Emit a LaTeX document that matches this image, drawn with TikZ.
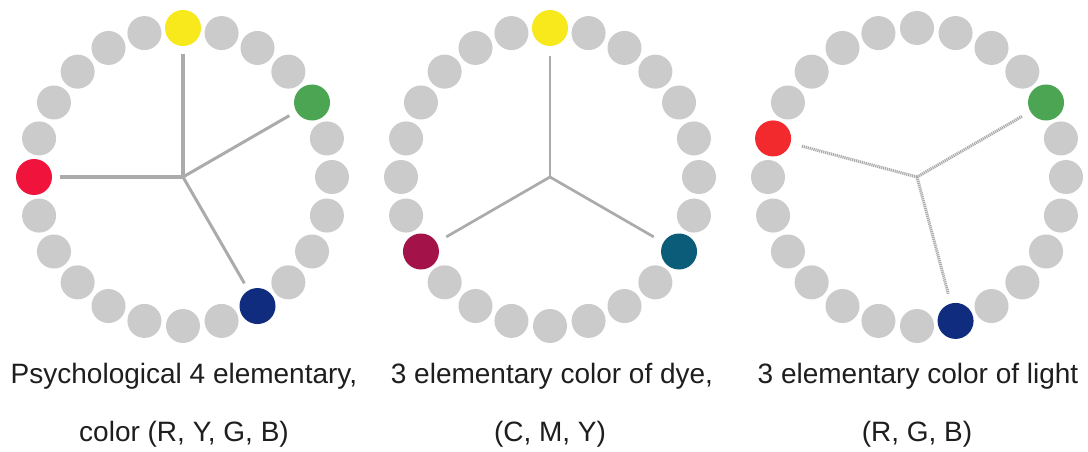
\documentclass[tikz,border=0pt]{standalone}
\usepackage{fontspec}
\setmainfont{Liberation Sans}
\definecolor{dotgray}{HTML}{CBCBCB}
\definecolor{spokegray}{HTML}{ABABAB}
\definecolor{cy}{HTML}{F7E91B}
\definecolor{cr}{HTML}{F0143C}
\definecolor{cg}{HTML}{4CA552}
\definecolor{cb}{HTML}{102C7E}
\definecolor{cm}{HTML}{A4124A}
\definecolor{ct}{HTML}{0B5C78}
\definecolor{crl}{HTML}{F22A2E}
\definecolor{txt}{HTML}{1E1E1E}
\begin{document}
\begin{tikzpicture}[x=1pt,y=-1pt,
  dot/.style={circle,inner sep=0pt,minimum size=34pt,fill=dotgray},
  cdot/.style={circle,inner sep=0pt,minimum size=36pt,fill=#1},
  spoke/.style={draw=spokegray,line width=#1,shorten >=8pt},
  stipple/.style={spoke=#1,dash pattern=on 1.2pt off 0.8pt},
  captext/.style={font=\fontsize{28}{33}\selectfont,text=txt,anchor=base,inner sep=0pt}]
\useasboundingbox (0,0) rectangle (1088,452);
\fill[white] (0,0) rectangle (1088,452);
% centres
\coordinate (c1) at (183,177);
\coordinate (c2) at (550,177);
\coordinate (c3) at (917,177);
% grey rings
\foreach \c in {c1,c2,c3}{
  \foreach \i in {0,...,23}{
    \path (\c) ++({90-15*\i}:149pt) node[dot] {};
  }
}
% circle 1: R, Y, G, B
\path (c1) ++(90:149pt)  node[cdot=cy] (y1) {};
\path (c1) ++(180:149pt) node[cdot=cr] (r1) {};
\path (c1) ++(30:149pt)  node[cdot=cg] (g1) {};
\path (c1) ++(-60:149pt) node[cdot=cb] (b1) {};
\draw[spoke=4pt] (c1) -- (y1);
\draw[spoke=4pt] (c1) -- (r1);
\draw[spoke=3pt] (c1) -- (g1);
\draw[spoke=3pt] (c1) -- (b1);
% circle 2: C, M, Y
\path (c2) ++(90:149pt)  node[cdot=cy] (y2) {};
\path (c2) ++(210:149pt) node[cdot=cm] (m2) {};
\path (c2) ++(-30:149pt) node[cdot=ct] (t2) {};
\draw[spoke=2.7pt,shorten >=10pt] (c2) -- (y2);
\draw[spoke=2.7pt,shorten >=11pt] (c2) -- (m2);
\draw[spoke=2.7pt,shorten >=11pt] (c2) -- (t2);
% circle 3: R, G, B
\path (c3) ++(165:149pt) node[cdot=crl] (r3) {};
\path (c3) ++(30:149pt)  node[cdot=cg] (g3) {};
\path (c3) ++(-75:149pt) node[cdot=cb] (b3) {};
\draw[stipple=3pt,shorten >=11pt] (c3) -- (r3);
\draw[stipple=3pt,shorten >=9pt] (c3) -- (g3);
\draw[stipple=3pt,shorten >=10pt] (c3) -- (b3);
% captions
\node[captext] (t1a) at (184,383) {Psychological 4 elementary,};
\node[captext] (t1b) at (184,441) {color (R, Y, G, B)};
\node[captext] (t2a) at (552,383) {3 elementary color of dye,};
\node[captext] (t2b) at (550,441) {(C, M, Y)};
\node[captext] (t3a) at (918,383) {3 elementary color of light};
\node[captext] (t3b) at (917,441) {(R, G, B)};
\end{tikzpicture}
\end{document}
